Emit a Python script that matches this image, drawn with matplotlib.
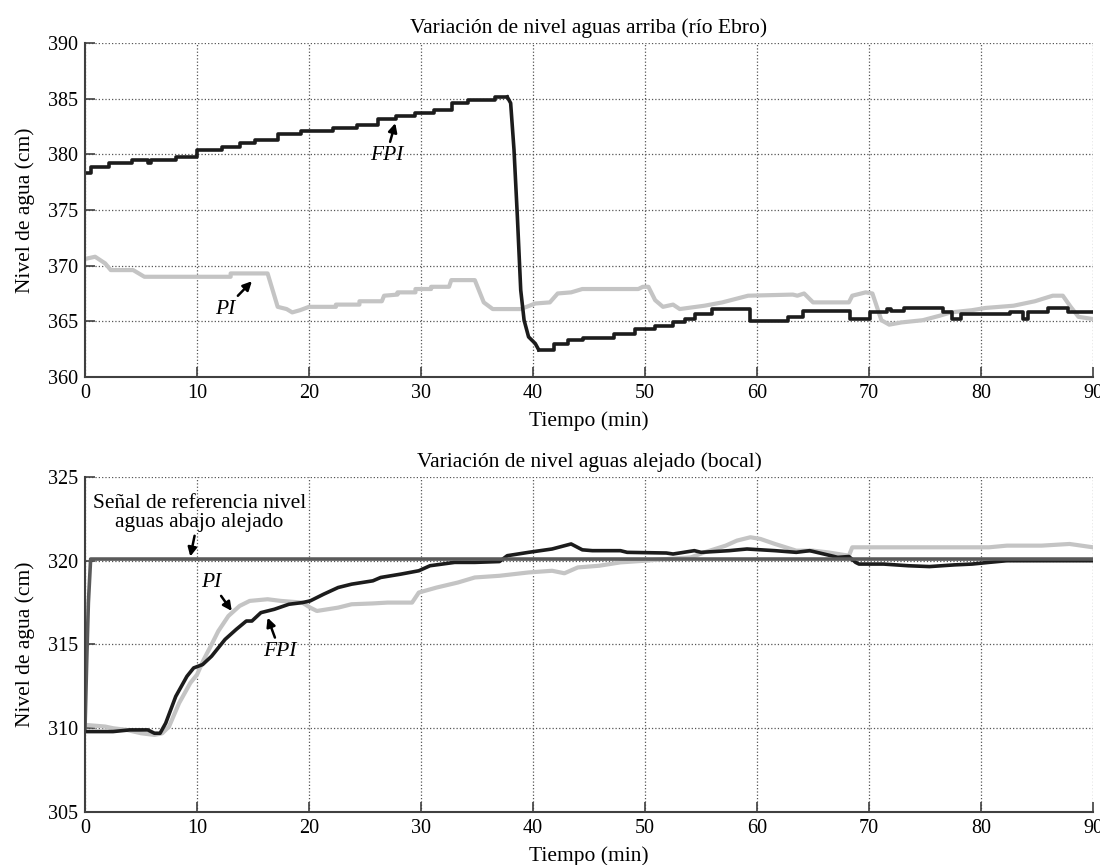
import numpy as np
import matplotlib.pyplot as plt

plt.rcParams['font.family'] = ['Liberation Serif', 'DejaVu Serif']

# ---- upper plot: level upstream (río Ebro) ----
# FPI: staircase before the drop, the drop itself, staircase after
fpi_up1_t = [0, 0.57, 2.1, 4.2, 5.6, 5.9, 8.1, 10.0, 12.2, 13.8, 15.2, 17.2, 19.3,
             22.1, 24.3, 26.2, 27.8, 29.5, 31.2, 32.8, 34.2, 36.6, 37.7]
fpi_up1_v = [378.3, 378.9, 379.2, 379.5, 379.2, 379.5, 379.8, 380.4, 380.7, 381.0,
             381.3, 381.8, 382.1, 382.4, 382.6, 383.2, 383.4, 383.7, 384.0, 384.6,
             384.9, 385.15, 385.15]
fpi_drop_t = [37.7, 38.0, 38.3, 38.6, 38.9, 39.2, 39.6, 40.2, 40.5]
fpi_drop_v = [385.15, 384.6, 380.4, 374.4, 367.8, 365.1, 363.6, 363.0, 362.45]
fpi_up2_t = [40.5, 41.9, 43.1, 44.5, 47.2, 49.1, 50.9, 52.5, 53.6, 54.5, 56.0, 59.4,
             62.8, 64.1, 68.3, 70.1, 71.6, 72.0, 73.1, 76.6, 77.4, 78.2, 80.1, 82.6,
             83.7, 84.2, 86.0, 87.8, 90]
fpi_up2_v = [362.45, 363.0, 363.3, 363.5, 363.9, 364.3, 364.6, 364.9, 365.2, 365.7,
             366.1, 365.0, 365.4, 365.9, 365.2, 365.8, 366.1, 365.9, 366.2, 365.8,
             365.2, 365.7, 365.7, 365.8, 365.2, 365.8, 366.2, 365.8, 365.8]

pi_up_t = [0, 0.9, 1.8, 2.3, 4.3, 5.3, 13.0, 13.0, 16.3, 17.2, 18.0, 18.5, 19.2,
           20.0, 22.4, 22.4, 24.5, 24.5, 26.5, 26.7, 27.9, 27.9, 29.5, 29.5, 30.9,
           30.9, 32.5, 32.7, 34.8, 35.6, 36.4, 38.9, 40.2, 41.5, 42.2, 43.4, 44.4,
           49.4, 49.8, 50.3, 50.9, 51.6, 52.5, 53.1, 55.3, 56.9, 59.2, 63.2, 63.6,
           64.2, 65.0, 68.2, 68.5, 69.7, 70.3, 71.1, 71.8, 72.9, 74.8, 76.3, 77.3,
           79.2, 80.4, 82.9, 84.8, 86.4, 87.3, 88.0, 88.7, 90]
pi_up_v = [370.6, 370.8, 370.2, 369.6, 369.6, 369.0, 369.0, 369.3, 369.3, 366.3,
           366.1, 365.8, 366.0, 366.3, 366.3, 366.5, 366.5, 366.8, 366.8, 367.3,
           367.4, 367.6, 367.6, 367.9, 367.9, 368.1, 368.1, 368.7, 368.7, 366.7,
           366.1, 366.1, 366.6, 366.7, 367.5, 367.6, 367.9, 367.9, 368.1, 368.1,
           366.9, 366.3, 366.5, 366.1, 366.4, 366.7, 367.3, 367.4, 367.3, 367.5,
           366.7, 366.7, 367.3, 367.6, 367.5, 365.1, 364.7, 364.9, 365.1, 365.5,
           365.8, 366.0, 366.2, 366.4, 366.8, 367.3, 367.3, 366.3, 365.4, 365.2]

# ---- lower plot: level at far point (bocal) ----
ref_t = [0, 0.15, 0.3, 0.5, 90]
ref_v = [310.0, 314.0, 317.5, 320.1, 320.1]

fpi_dn_t = [0, 2.5, 4.0, 5.6, 6.2, 6.7, 7.2, 8.1, 9.1, 9.7, 10.5, 11.3, 12.5, 13.5,
            14.4, 14.9, 15.7, 16.9, 18.2, 19.4, 20.1, 21.3, 22.6, 23.8, 25.7, 26.4,
            28.2, 29.8, 30.8, 33.0, 34.8, 37.0, 37.7, 39.6, 41.7, 43.4, 44.4, 45.3,
            47.8, 48.4, 51.9, 52.5, 54.4, 55.0, 57.5, 59.1, 61.6, 63.5, 64.7, 66.6,
            67.2, 68.2, 68.8, 69.1, 71.3, 73.5, 75.4, 77.6, 79.2, 80.7, 82.3, 90]
fpi_dn_v = [309.8, 309.8, 309.9, 309.9, 309.7, 309.7, 310.3, 311.9, 313.1, 313.6,
            313.8, 314.3, 315.3, 315.9, 316.4, 316.4, 316.9, 317.1, 317.4, 317.5,
            317.6, 318.0, 318.4, 318.6, 318.8, 319.0, 319.2, 319.4, 319.7, 319.9,
            319.9, 319.95, 320.3, 320.5, 320.7, 321.0, 320.65, 320.6, 320.6, 320.5,
            320.46, 320.4, 320.6, 320.5, 320.6, 320.7, 320.6, 320.5, 320.6, 320.3,
            320.2, 320.25, 319.9, 319.8, 319.8, 319.7, 319.65, 319.75, 319.8, 319.9,
            320.0, 320.0]

pi_dn_t = [0, 1.8, 2.5, 3.7, 5.0, 6.2, 6.9, 7.5, 8.4, 9.4, 10.0, 10.6, 11.3, 11.9,
           12.8, 13.8, 14.7, 16.3, 17.5, 19.4, 20.1, 20.7, 22.6, 23.8, 25.7, 27.0,
           29.2, 29.8, 31.4, 33.3, 34.8, 37.0, 39.6, 41.7, 42.8, 44.0, 45.9, 47.8,
           50.0, 50.9, 54.1, 55.3, 57.2, 58.2, 59.4, 60.3, 61.6, 63.5, 65.0, 66.3,
           68.2, 68.5, 71.3, 74.5, 77.6, 80.7, 82.3, 85.4, 87.9, 90]
pi_dn_v = [310.2, 310.1, 310.0, 309.9, 309.7, 309.6, 309.7, 310.1, 311.5, 312.7,
           313.2, 314.1, 315.0, 315.8, 316.7, 317.3, 317.6, 317.7, 317.6, 317.5,
           317.2, 317.0, 317.2, 317.4, 317.45, 317.5, 317.5, 318.1, 318.4, 318.7,
           319.0, 319.1, 319.3, 319.4, 319.25, 319.6, 319.7, 319.9, 320.0, 320.05,
           320.2, 320.5, 320.9, 321.2, 321.4, 321.3, 321.0, 320.6, 320.6, 320.5,
           320.3, 320.8, 320.8, 320.8, 320.8, 320.8, 320.9, 320.9, 321.0, 320.8]

x_ticks = [0, 10, 20, 30, 40, 50, 60, 70, 80, 90]
y_ticks_up = [360, 365, 370, 375, 380, 385, 390]
y_ticks_dn = [305, 310, 315, 320, 325]

c_fpi = '#1c1c1c'
c_pi = '#c4c4c4'
c_ref = '#5a5a5a'
c_axis = '#404040'


def style_axes(ax, yticks, title):
    ax.set_xlim(0, 90)
    ax.set_ylim(yticks[0], yticks[-1])
    ax.set_xticks(x_ticks)
    ax.set_yticks(yticks)
    ax.grid(True, linestyle=':', color='#555555', linewidth=0.9)
    for side in ['top', 'right']:
        ax.spines[side].set_visible(False)
    for side in ['left', 'bottom']:
        ax.spines[side].set_color(c_axis)
        ax.spines[side].set_linewidth(1.5)
    ax.tick_params(direction='in', length=7, width=1.2, color=c_axis,
                   labelsize=14.5, pad=5)
    ax.set_xlabel('Tiempo (min)', fontsize=15.5, labelpad=6)
    ax.set_ylabel('Nivel de agua (cm)', fontsize=15.5, labelpad=9)
    ax.set_title(title, fontsize=15.5, pad=7)


fig = plt.figure(figsize=(11, 8.65), dpi=100)
ax1 = fig.add_axes([0.0773, 0.5642, 0.9164, 0.3861])
ax2 = fig.add_axes([0.0773, 0.0613, 0.9164, 0.3873])

ax1.plot(pi_up_t, pi_up_v, color=c_pi, lw=3.0)
ax1.plot(fpi_up1_t, fpi_up1_v, color=c_fpi, lw=2.6, drawstyle='steps-post')
ax1.plot(fpi_drop_t, fpi_drop_v, color=c_fpi, lw=2.6)
ax1.plot(fpi_up2_t, fpi_up2_v, color=c_fpi, lw=2.6, drawstyle='steps-post')
style_axes(ax1, y_ticks_up, 'Variación de nivel aguas arriba (río Ebro)')

arrow = dict(arrowstyle='-|>', color='black', lw=1.8, mutation_scale=13,
             shrinkA=1, shrinkB=0)
ax1.annotate('FPI', xy=(27.7, 382.8), xytext=(26.9, 379.9), fontsize=15.5,
             style='italic', ha='center', va='center', arrowprops=arrow)
ax1.annotate('PI', xy=(14.9, 368.6), xytext=(12.5, 366.1), fontsize=15.5,
             style='italic', ha='center', va='center', arrowprops=arrow)

ax2.plot(pi_dn_t, pi_dn_v, color=c_pi, lw=3.0)
ax2.plot(fpi_dn_t, fpi_dn_v, color=c_fpi, lw=2.6)
ax2.plot(ref_t, ref_v, color=c_ref, lw=2.6)
style_axes(ax2, y_ticks_dn, 'Variación de nivel aguas alejado (bocal)')

ax2.annotate('Señal de referencia nivel\naguas abajo alejado', xy=(9.4, 320.25),
             xytext=(10.2, 322.85), fontsize=15.5, ha='center', va='center',
             linespacing=0.95, arrowprops=arrow)
ax2.annotate('PI', xy=(13.1, 317.0), xytext=(11.3, 318.7), fontsize=15.5,
             style='italic', ha='center', va='center', arrowprops=arrow)
ax2.annotate('FPI', xy=(16.3, 316.6), xytext=(17.4, 314.6), fontsize=15.5,
             style='italic', ha='center', va='center', arrowprops=arrow)

fig.savefig('out.png', dpi=100)
